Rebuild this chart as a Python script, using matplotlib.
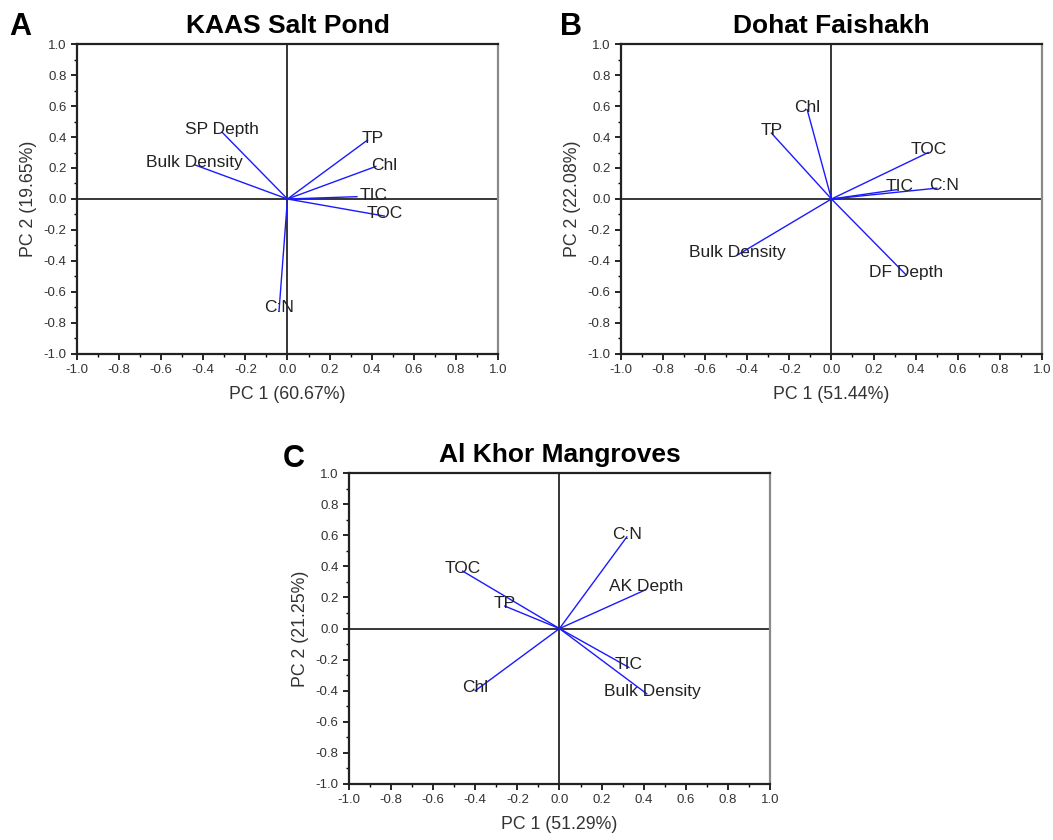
import numpy as np
import matplotlib
matplotlib.use("Agg")
import matplotlib.pyplot as plt
from matplotlib.ticker import MultipleLocator

plt.rcParams['font.family'] = ['Liberation Sans', 'DejaVu Sans']

# loadings (PC1, PC2)
kaas_vars = ["SP Depth", "Bulk Density", "TP", "Chl", "TIC", "TOC", "C:N"]
kaas_pc1 = [-0.31, -0.44, 0.38, 0.42, 0.33, 0.46, -0.04]
kaas_pc2 = [0.43, 0.22, 0.38, 0.21, 0.015, -0.11, -0.72]

doha_vars = ["Chl", "TP", "TOC", "TIC", "C:N", "Bulk Density", "DF Depth"]
doha_pc1 = [-0.115, -0.285, 0.46, 0.31, 0.50, -0.445, 0.355]
doha_pc2 = [0.575, 0.425, 0.30, 0.06, 0.07, -0.36, -0.49]

khor_vars = ["C:N", "AK Depth", "TOC", "TP", "TIC", "Bulk Density", "Chl"]
khor_pc1 = [0.32, 0.41, -0.46, -0.26, 0.33, 0.415, -0.40]
khor_pc2 = [0.59, 0.25, 0.37, 0.145, -0.25, -0.42, -0.40]

panels = [
    ("A", "KAAS Salt Pond", "PC 1 (60.67%)", "PC 2 (19.65%)", kaas_vars, kaas_pc1, kaas_pc2),
    ("B", "Dohat Faishakh", "PC 1 (51.44%)", "PC 2 (22.08%)", doha_vars, doha_pc1, doha_pc2),
    ("C", "Al Khor Mangroves", "PC 1 (51.29%)", "PC 2 (21.25%)", khor_vars, khor_pc1, khor_pc2),
]

# label nudges in points (dx, dy), where the label is not centred on the tip
nudge = {
    ("A", "TIC"): (12, 1),
    ("A", "Chl"): (6, 1),
    ("A", "TP"): (4, 1),
    ("B", "TIC"): (2, 2),
    ("B", "C:N"): (5, 2),
    ("C", "Bulk Density"): (4, 2),
}

fig = plt.figure(figsize=(10.53, 8.4), dpi=100)
rects = [
    [0.0731, 0.5786, 0.3998, 0.369],
    [0.5897, 0.5786, 0.3998, 0.369],
    [0.3314, 0.0667, 0.3998, 0.370],
]
letter_pos = [(-0.162, 1.03), (-0.145, 1.03), (-0.157, 1.02)]

for rect, lpos, (letter, title, xl, yl, names, x, y) in zip(rects, letter_pos, panels):
    ax = fig.add_axes(rect)
    ax.set_xlim(-1, 1)
    ax.set_ylim(-1, 1)
    ax.axhline(0, color="black", lw=1.1, zorder=1)
    ax.axvline(0, color="black", lw=1.1, zorder=1)
    for name, px, py in zip(names, x, y):
        ax.plot([0, px], [0, py], color="#1a1aff", lw=1.0, zorder=2)
        dx, dy = nudge.get((letter, name), (0, 2))
        ax.annotate(name, (px, py), xytext=(dx, dy), textcoords="offset points",
                    ha="center", va="center", fontsize=12.5, color="#222222", zorder=3)

    ax.xaxis.set_minor_locator(MultipleLocator(0.1))
    ax.yaxis.set_minor_locator(MultipleLocator(0.1))
    ticks = np.arange(-1.0, 1.01, 0.2)
    ax.set_xticks(ticks)
    ax.set_yticks(ticks)
    ax.set_xticklabels([f"{t:.1f}".replace("-0.0", "0.0") for t in ticks])
    ax.set_yticklabels([f"{t:.1f}".replace("-0.0", "0.0") for t in ticks])
    ax.tick_params(which="major", direction="out", length=4, width=1.2,
                   labelsize=9.5, labelcolor="#333333", top=False, right=False)
    ax.tick_params(which="minor", direction="out", length=2.5, width=1.0, top=False, right=False)
    for side in ["left", "bottom", "top"]:
        ax.spines[side].set_linewidth(1.6)
        ax.spines[side].set_color("#222222")
    ax.spines["right"].set_linewidth(1.6)
    ax.spines["right"].set_color("#8a8a8a")

    ax.set_xlabel(xl, fontsize=12.8, color="#333333", labelpad=7)
    ax.set_ylabel(yl, fontsize=12.8, color="#333333", labelpad=5)
    ax.set_title(title, fontsize=19, fontweight="bold", pad=8)
    ax.text(lpos[0], lpos[1], letter, transform=ax.transAxes, fontsize=22,
            fontweight="bold", ha="left", va="baseline")

fig.savefig("out.png", dpi=100)
